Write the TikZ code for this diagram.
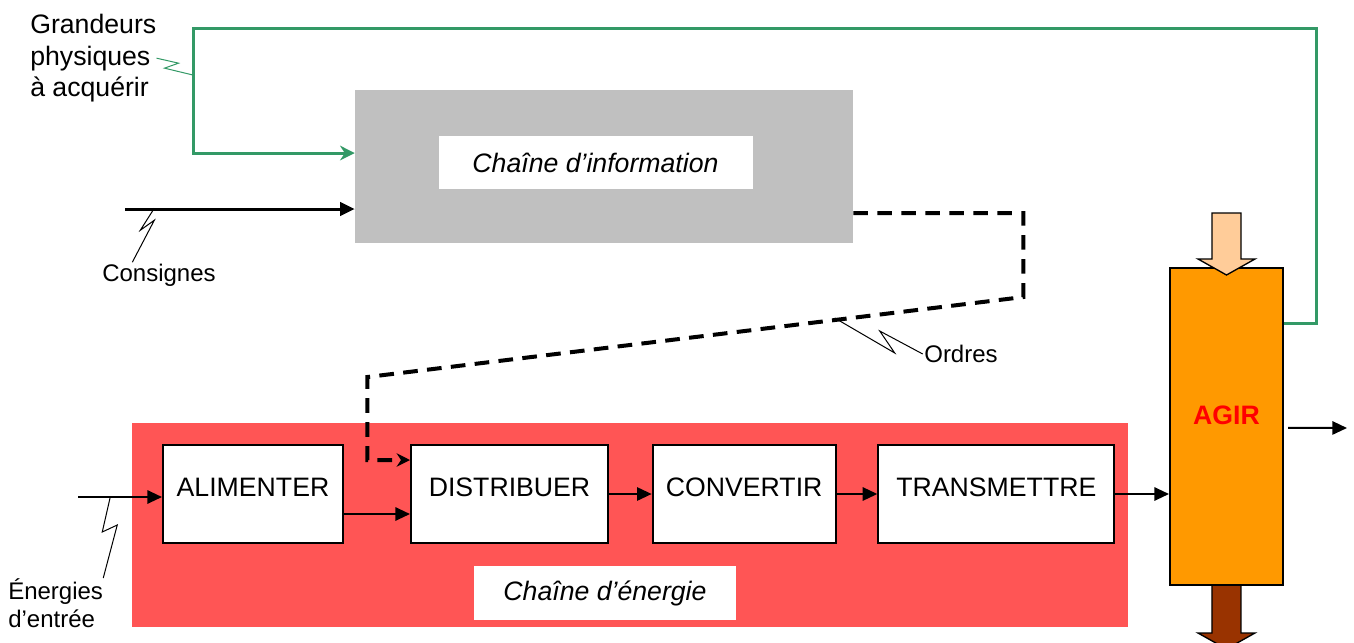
\documentclass[tikz,border=0pt]{standalone}
\usepackage{fontspec}
\setmainfont{Liberation Sans}
\usetikzlibrary{arrows.meta, positioning}
\definecolor{chaingray}{RGB}{192,192,192}
\definecolor{chainred}{RGB}{255,85,85}
\definecolor{feedgreen}{RGB}{51,153,102}
\definecolor{agirorange}{RGB}{255,153,0}
\definecolor{powerin}{RGB}{255,204,153}
\definecolor{powerout}{RGB}{153,51,0}

\begin{document}
\begin{tikzpicture}[x = 0.75pt, y = -0.75pt, >={Triangle[length = 11pt, width = 10pt]},
  block/.style = {draw, fill = white, line width = 1.5pt, minimum height = 73.5pt, text depth = 10pt, font = \fontsize{20}{24}\selectfont},
  title/.style = {fill = white, inner sep = 0pt, font = \fontsize{20}{24}\selectfont\itshape},
  note/.style = {inner sep = 1pt, align = left, font = \fontsize{18}{21}\selectfont},
  flow/.style = {->, line width = 1.5pt},
  zigzag/.style = {line width = 0.75pt}]
      \useasboundingbox (0,0) rectangle (1354,643);

      \node[fill = chaingray, minimum width = 373.5pt, minimum height = 114.75pt] (info) at (604,166.5) {};
      \node[title, minimum width = 235.5pt, minimum height = 39.75pt] (infotitle) at (595.5,162.5) {Chaîne d’information};

      \node[fill = chainred, minimum width = 747pt, minimum height = 153pt] (energy) at (630,525) {};
      \node[title, minimum width = 196.5pt, minimum height = 40.5pt] (energytitle) at (605,593) {Chaîne d’énergie};

      \node[block, minimum width = 135pt] (alim) at (253,494) {ALIMENTER};
      \node[block, minimum width = 147.75pt, right = 49.5pt of alim] (distrib) {DISTRIBUER};
      \node[block, minimum width = 137.25pt, right = 32pt of distrib] (convert) {CONVERTIR};
      \node[block, minimum width = 177pt, right = 30.5pt of convert] (transmit) {TRANSMETTRE};

      \node[draw, fill = agirorange, line width = 1.5pt, minimum width = 84.75pt, minimum height = 237.75pt,
            text = red, text depth = 16.5pt, font = \fontsize{20}{24}\selectfont\bfseries] (agir) at (1226.5,426.5) {AGIR};

      \node[note, anchor = north west, inner sep = 0pt, font = \fontsize{20}{23.6}\selectfont] (grand) at (30,14) {Grandeurs\\physiques\\à acquérir};
      \node[note] (consl) at (159,275) {Consignes};
      \node[note] (ordl) at (961,354) {Ordres};
      \node[note, anchor = north west, inner sep = 0pt] (ener) at (8,578) {Énergies\\d’entrée};

      \coordinate (consin) at (125,209);
      \coordinate (enerin) at (78,497);
      \coordinate (agirout) at (1347,428);

      % feedback and orders
      \draw[feedgreen, line width = 2.25pt, -{Stealth[length = 11pt, width = 11pt]}]
            ([yshift = 77.6pt]agir.east) -- ++(32,0) -- ++(0,-295) -- ++(-1123,0) |- ([yshift = 10.1pt]info.west);
      \draw[line width = 3pt, dash pattern = on 11pt off 7pt, -{Stealth[length = 10pt, width = 10pt]}]
            ([yshift = -34.9pt]info.east) -- ++(170,0) -- ++(0,84) -- ++(-656,80) |- ([yshift = 25.5pt]distrib.west);
      \draw[->, line width = 2.25pt] (consin) -- (consin -| info.west);

      \draw[flow] (enerin) -- (enerin -| alim.west);
      \draw[flow] ([yshift = -15pt]alim.east) -- ([yshift = -15pt]distrib.west);
      \path[flow] (distrib) edge (convert)
                  (convert) edge (transmit);
      \draw[flow] (transmit.east) -- (transmit.east -| agir.west);
      \draw[flow] ([xshift = 3pt, yshift = -1pt]agir.east) -- (agirout);

      % power in and out of AGIR
      \draw[fill = powerin, line width = 1pt] ([yshift = -6pt]agir.north) -- ++(28.5,-16) -- ++(-14,0) -- ++(0,-46)
            -- ++(-29,0) -- ++(0,46) -- ++(-14,0) -- cycle;
      \draw[fill = powerout, line width = 1pt] ([xshift = -10.9pt]agir.south) -- ++(0,47) -- ++(-14,0) -- ++(28.5,16)
            -- ++(28.5,-16) -- ++(-14,0) -- ++(0,-47);

      \draw[feedgreen, zigzag] (grand.east) -- ++(22,5) -- ++(-14,5) -- ++(29,7);
      \draw[zigzag] ([xshift = -20pt]consl.north) -- ++(22,-42) -- ++(-14,10) -- ++(14,-22);
      \draw[zigzag] (ordl.west) -- ++(-43,-23) -- ++(15,22) -- ++(-60,-35);
      \draw[zigzag] (ener.north east) -- ++(14,-53) -- ++(-15,7) -- ++(8,-35);
\end{tikzpicture}
\end{document}
